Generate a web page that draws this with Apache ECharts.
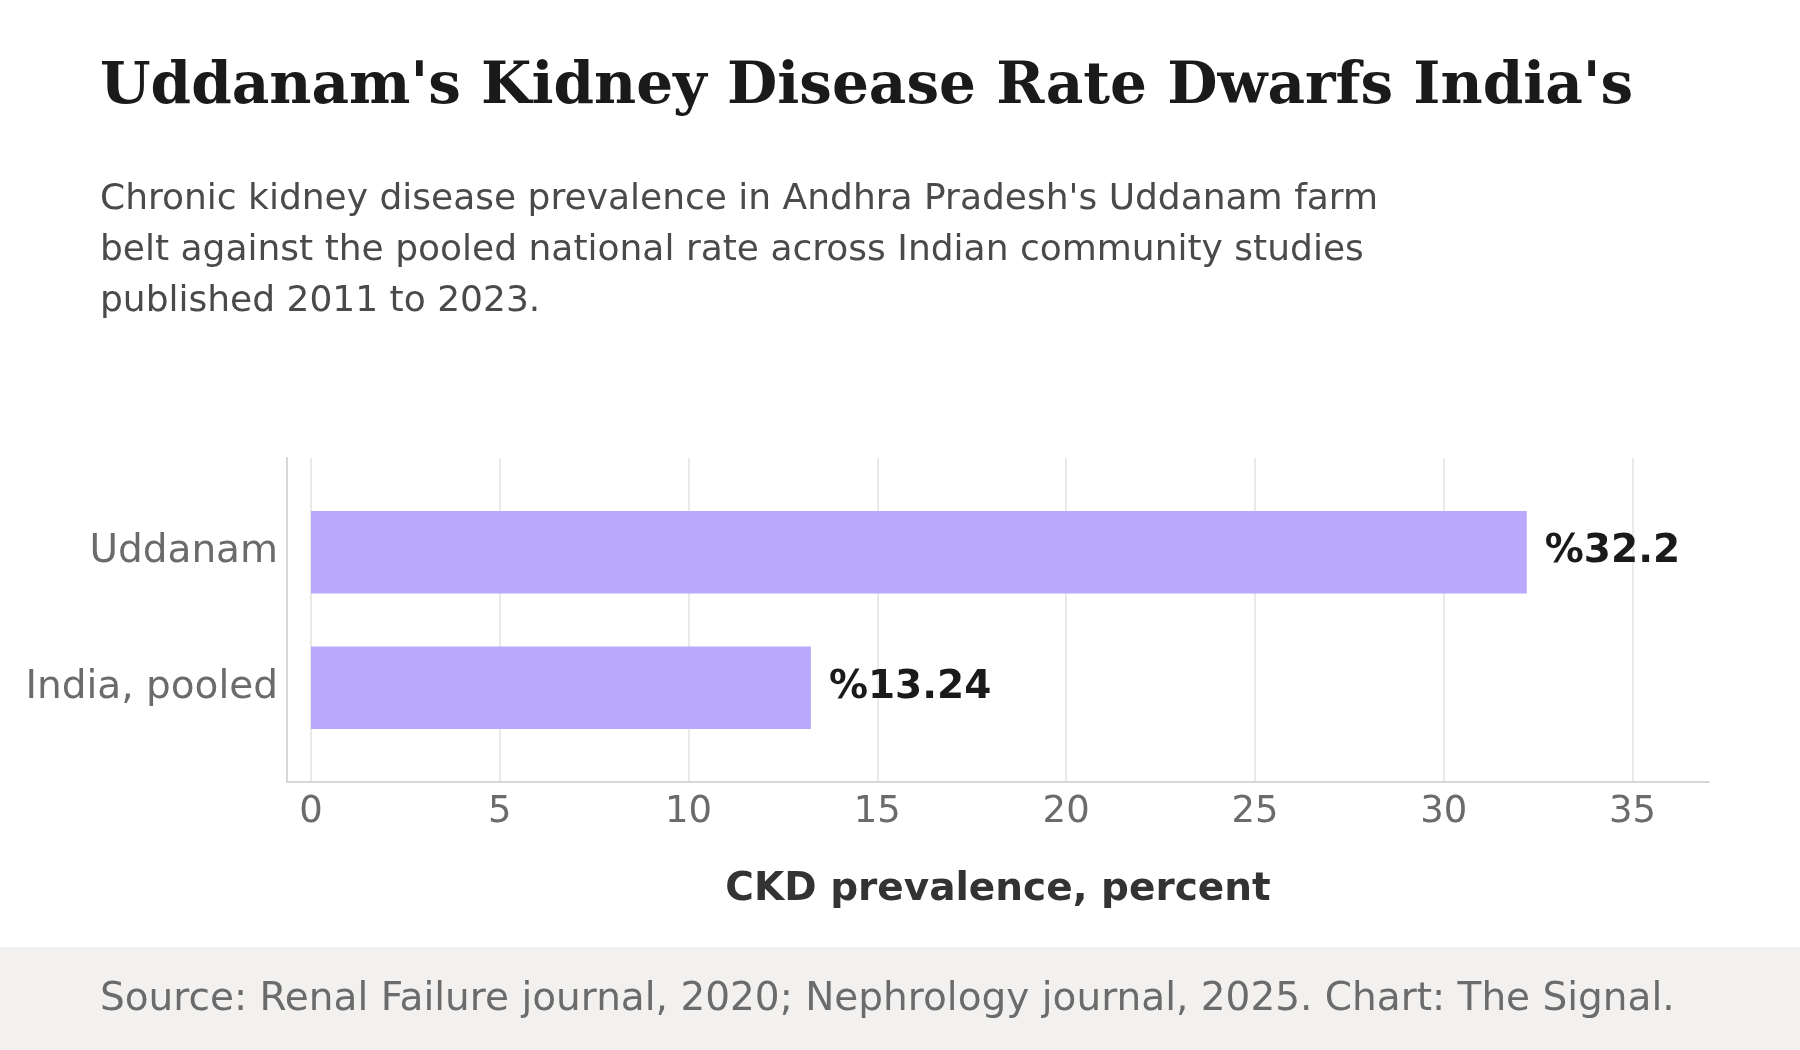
<!DOCTYPE html>
<html>
<head>
<meta charset="utf-8">
<script src="https://cdn.jsdelivr.net/npm/echarts@6/dist/echarts.min.js"></script>
<style>
  body { margin: 0; background: #fff; }
  #main { width: 1800px; height: 1050px; }
</style>
</head>
<body>
<div id="main"></div>
<script>
const categories = ['Uddanam', 'India, pooled'];
const prevalence = [32.2, 13.24];
const xTicks = [0, 5, 10, 15, 20, 25, 30, 35];

const titleText = "Uddanam's Kidney Disease Rate Dwarfs India's";
const subtitleLines = [
  "Chronic kidney disease prevalence in Andhra Pradesh's Uddanam farm",
  'belt against the pooled national rate across Indian community studies',
  'published 2011 to 2023.'
];
const sourceText = 'Source: Renal Failure journal, 2020; Nephrology journal, 2025. Chart: The Signal.';

const sans = "'DejaVu Sans', sans-serif";
const barColor = '#b8a9fd';

let myChart = echarts.init(document.getElementById('main'));

const option = {
  backgroundColor: '#fff',
  animation: false,
  title: [
    {
      text: titleText,
      left: 100,
      top: 59,
      padding: 0,
      textStyle: { fontFamily: "'DejaVu Serif', serif", fontWeight: 'bold', fontSize: 58, color: '#1a1a1a' }
    },
    {
      text: subtitleLines.join('\n'),
      left: 100,
      top: 174,
      padding: 0,
      textStyle: { fontFamily: sans, fontWeight: 'normal', fontSize: 36, lineHeight: 51, color: '#4a4a4a' }
    },
    {
      text: sourceText,
      left: 100,
      top: 980,
      padding: 0,
      textStyle: { fontFamily: sans, fontWeight: 'normal', fontSize: 39, lineHeight: 40, color: '#6b6b6b' }
    }
  ],
  graphic: [
    {
      type: 'rect',
      left: 0,
      top: 947,
      z: -10,
      shape: { width: 1800, height: 103 },
      style: { fill: '#f2f1ef' }
    }
  ],
  grid: [
    // bars
    { left: 311, right: 167.5, top: 484.5, height: 271 },
    // gridlines + tick labels
    { left: 311, right: 167.5, top: 458, height: 324 },
    // axis frame
    { left: 287, right: 91, top: 458, height: 324 }
  ],
  xAxis: [
    {
      gridIndex: 0, type: 'value', min: 0, max: 35, interval: 5,
      axisLine: { show: false }, axisTick: { show: false },
      axisLabel: { show: false }, splitLine: { show: false }
    },
    {
      gridIndex: 1, type: 'value', min: 0, max: 35, interval: 5,
      axisLine: { show: false }, axisTick: { show: false },
      axisLabel: { fontFamily: sans, fontSize: 37, color: '#6b6b6b', margin: 12 },
      splitLine: { show: true, lineStyle: { color: '#e4e2de', width: 1.5 } }
    },
    {
      gridIndex: 2, type: 'value', min: 0, max: 1,
      axisLine: { show: true, lineStyle: { color: '#d9d7d3', width: 2 } },
      axisTick: { show: false }, axisLabel: { show: false }, splitLine: { show: false },
      name: 'CKD prevalence, percent',
      nameLocation: 'middle',
      nameGap: 88,
      nameTextStyle: { fontFamily: sans, fontWeight: 'bold', fontSize: 39, color: '#333' }
    }
  ],
  yAxis: [
    {
      gridIndex: 0, type: 'category', data: categories, inverse: true,
      axisLine: { show: false }, axisTick: { show: false },
      axisLabel: { fontFamily: sans, fontSize: 39, color: '#6b6b6b', margin: 33 }
    },
    {
      gridIndex: 1, type: 'value', show: false
    },
    {
      gridIndex: 2, type: 'value', min: 0, max: 1,
      axisLine: { show: true, lineStyle: { color: '#d9d7d3', width: 2 } },
      axisTick: { show: false }, axisLabel: { show: false }, splitLine: { show: false }
    }
  ],
  series: [
    {
      type: 'bar',
      xAxisIndex: 0,
      yAxisIndex: 0,
      data: prevalence,
      barWidth: '61%',
      itemStyle: { color: barColor },
      label: {
        show: true,
        position: 'right',
        distance: 18,
        formatter: (p) => '%' + p.value,
        fontFamily: sans,
        fontWeight: 'bold',
        fontSize: 39,
        color: '#1a1a1a'
      }
    }
  ]
};

myChart.setOption(option);
</script>
</body>
</html>
